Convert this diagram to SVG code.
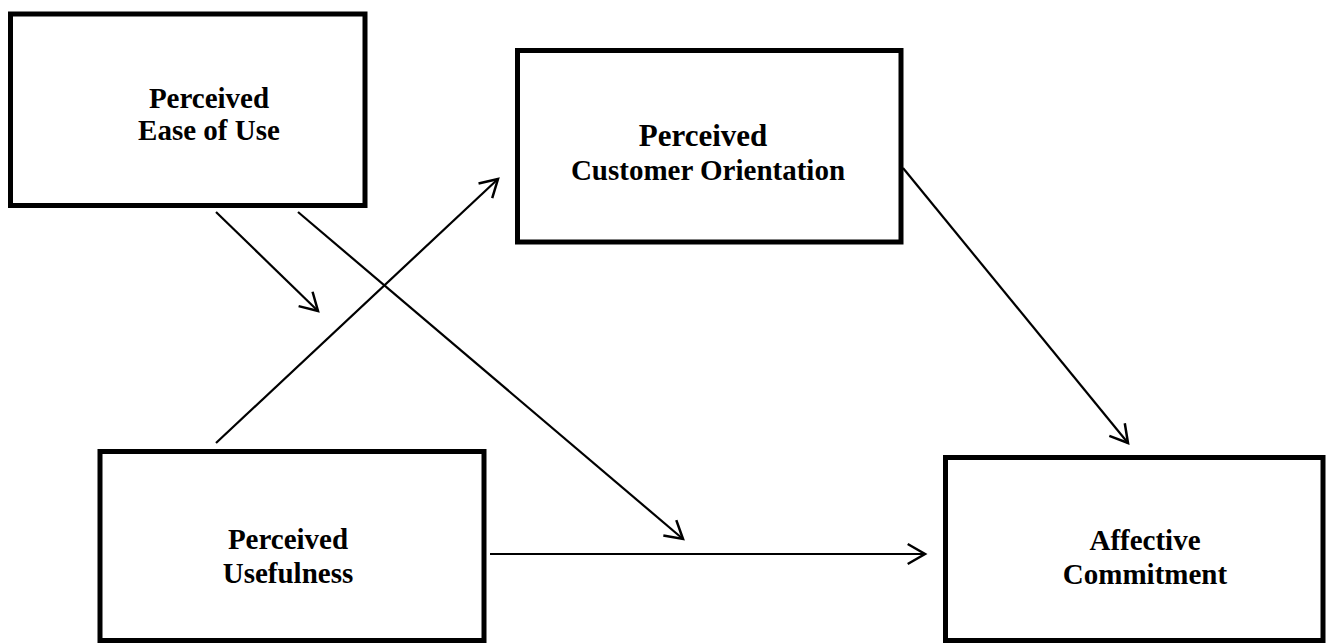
<svg xmlns="http://www.w3.org/2000/svg" width="1330" height="644" viewBox="0 0 1330 644">
<style>
.box{fill:#fff;stroke:#000;stroke-width:5}
.lbl{font-family:"Liberation Serif","Times New Roman",serif;font-weight:bold;font-size:29px;fill:#000;text-anchor:middle}
.con{fill:none;stroke:#000;stroke-width:2.2}
</style>
<defs>
<marker id="ah" viewBox="-20 -12 22 24" refX="0" refY="0" markerWidth="22" markerHeight="24" markerUnits="userSpaceOnUse" orient="auto" overflow="visible">
<path d="M-17.3,-10 L0,0 L-17.3,10" fill="none" stroke="#000" stroke-width="2.5"/>
</marker>
</defs>
<rect width="1330" height="644" fill="#fff"/>
<g id="peou">
<rect class="box" x="10.5" y="14" width="354.5" height="191.5"/>
<text class="lbl" x="209" y="108">Perceived</text>
<text class="lbl" x="209" y="140">Ease of Use</text>
</g>
<g id="pco">
<rect class="box" x="517.5" y="50.5" width="383.5" height="191.5"/>
<text class="lbl" x="703" y="146" style="font-size:31px">Perceived</text>
<text class="lbl" x="708" y="180">Customer Orientation</text>
</g>
<g id="pu">
<rect class="box" x="100" y="451.5" width="384" height="189"/>
<text class="lbl" x="288" y="549">Perceived</text>
<text class="lbl" x="288" y="583">Usefulness</text>
</g>
<g id="ac">
<rect class="box" x="945.5" y="457.5" width="377.5" height="183"/>
<text class="lbl" x="1145" y="550">Affective</text>
<text class="lbl" x="1145" y="584">Commitment</text>
</g>
<g id="connectors">
<line class="con" x1="216" y1="212" x2="318" y2="311" marker-end="url(#ah)"/>
<line class="con" x1="298" y1="212" x2="683" y2="539" marker-end="url(#ah)"/>
<line class="con" x1="216" y1="443" x2="498" y2="179" marker-end="url(#ah)"/>
<line class="con" x1="903" y1="168" x2="1128" y2="443" marker-end="url(#ah)"/>
<line class="con" x1="490" y1="554" x2="925" y2="554" marker-end="url(#ah)"/>
</g>
</svg>
